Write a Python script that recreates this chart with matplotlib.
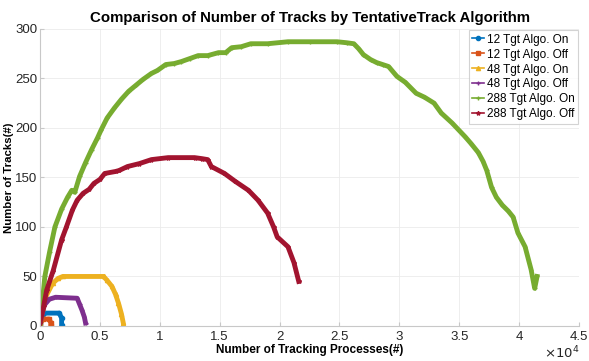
import matplotlib
matplotlib.use("Agg")
import matplotlib.pyplot as plt
from matplotlib.ticker import FuncFormatter

plt.rcParams['font.family'] = ['Liberation Sans', 'DejaVu Sans']

# series values (x = tracking processes, y = tracks)
on12_x = [0, 350, 1600, 1800, 1800]
on12_y = [2, 13, 13, 8, 1]

off12_x = [0, 220, 770, 900, 900]
off12_y = [1, 7, 7, 3, 0]

on48_x = [0, 250, 500, 1050, 1500, 1900, 5300, 5600, 6000, 6300, 6550, 6800, 6950]
on48_y = [3, 18, 30, 43, 48, 50, 50, 46, 40, 32, 23, 12, 3]

off48_x = [0, 350, 770, 1300, 3100, 3300, 3500, 3700, 3800]
off48_y = [3, 21, 27, 29, 28, 22, 16, 9, 3]

on288_x = [0, 400, 800, 1240, 1800, 2300, 2650, 2900, 3300, 3800, 4300, 4800,
           5100, 5600, 6200, 6800, 7400, 8000, 8600, 9300, 9800, 10500, 11200,
           11800, 12500, 13200, 14000, 14900, 15500, 16000, 16800, 17600, 19000,
           20700, 22500, 24800, 25600, 26200, 26600, 27000, 27600, 28100, 28600,
           29100, 29800, 30500, 31400, 32100, 32900, 33500, 34400, 35500, 36000,
           36600, 37000, 37300, 37700, 38100, 38600, 39100, 39500, 39900, 40500,
           41000, 41300, 41500]
on288_y = [0, 50, 75, 100, 118, 130, 137, 135, 151, 165, 178, 190, 198, 210,
           220, 229, 237, 243, 249, 255, 258, 264, 265, 267, 270, 273, 273, 276,
           276, 281, 282, 285, 285, 287, 287, 287, 286, 285, 280, 274, 269, 266,
           264, 262, 252, 246, 235, 231, 225, 215, 205, 191, 184, 175, 166, 157,
           140, 130, 122, 116, 110, 94, 80, 57, 38, 50]

off288_x = [0, 300, 550, 1100, 1800, 2200, 2700, 3100, 3600, 4100, 4500, 5000,
            5400, 6300, 6600, 7300, 8300, 9300, 10700, 12900, 13500, 14000, 14300,
            15400, 16300, 17400, 18200, 19000, 19500, 19800, 20700, 21200, 21600]
off288_y = [3, 20, 36, 56, 87, 100, 117, 127, 134, 138, 144, 148, 154, 156, 157,
            161, 164, 168, 170, 170, 169, 168, 161, 154, 146, 137, 127, 114, 100,
            90, 80, 64, 45]

labels = ['12 Tgt Algo. On', '12 Tgt Algo. Off', '48 Tgt Algo. On',
          '48 Tgt Algo. Off', '288 Tgt Algo. On', '288 Tgt Algo. Off']
colors = ['#0072BD', '#D95319', '#EDB120', '#7E2F8E', '#77AC30', '#A2142F']
markers = ['o', 's', '^', '+', '+', '*']

fig = plt.figure(figsize=(5.89, 3.61), dpi=100)
ax = fig.add_axes([0.068, 0.097, 0.915, 0.823])

series = [(on12_x, on12_y), (off12_x, off12_y), (on48_x, on48_y),
          (off48_x, off48_y), (on288_x, on288_y), (off288_x, off288_y)]
for i in range(len(series)):
    xs, ys = series[i]
    ax.plot(xs, ys, color=colors[i], lw=3.5, marker=markers[i], ms=3,
            label=labels[i], solid_joinstyle='round')

ax.set_xlim(0, 45000)
ax.set_ylim(0, 300)
ax.set_xticks(range(0, 45001, 5000))
ax.set_yticks(range(0, 301, 50))
ax.xaxis.set_major_formatter(FuncFormatter(lambda v, p: '%g' % (v / 1e4)))
ax.grid(True, color='#ebebeb', lw=0.6)
ax.set_axisbelow(True)
for s in ['top', 'right']:
    ax.spines[s].set_visible(False)
for s in ['left', 'bottom']:
    ax.spines[s].set_color('#c8c8c8')
ax.tick_params(direction='in', length=3, colors='#c8c8c8', labelcolor='#262626',
               labelsize=9.5)
ax.tick_params(axis='y', pad=2)

ax.set_title('Comparison of Number of Tracks by TentativeTrack Algorithm',
             fontsize=10.8, fontweight='bold', pad=5)
ax.set_xlabel('Number of Tracking Processes(#)', fontsize=8.5, fontweight='bold',
              labelpad=1)
ax.set_ylabel('Number of Tracks(#)', fontsize=8.2, fontweight='bold', labelpad=1)
ax.text(1.0, -0.09, r'$\times10^4$', transform=ax.transAxes, ha='right',
        va='center', fontsize=9.5, color='#262626')

leg = ax.legend(loc='upper right', fontsize=8.5, handlelength=1.0,
                handletextpad=0.2, borderpad=0.3, labelspacing=0.25,
                fancybox=False, borderaxespad=0.1)
leg.get_frame().set_edgecolor('#c8c8c8')
leg.get_frame().set_linewidth(0.8)
for h in leg.get_lines():
    h.set_linewidth(1.2)

fig.savefig('out.png', dpi=100)
